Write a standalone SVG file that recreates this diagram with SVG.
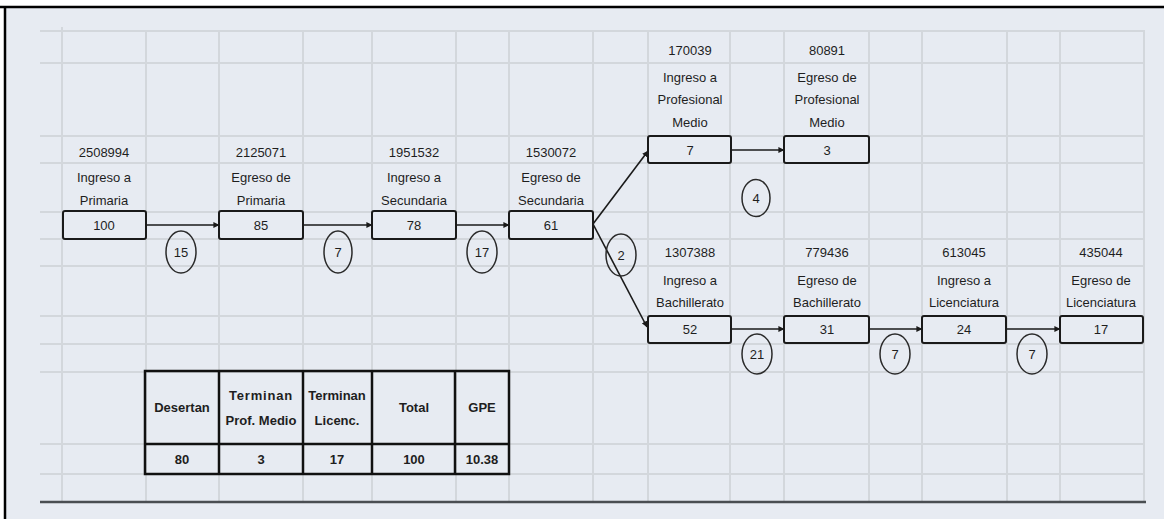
<svg xmlns="http://www.w3.org/2000/svg" width="1164" height="519" viewBox="0 0 1164 519">
<defs>
<style>
.grid line{stroke:#d3d7dc;stroke-width:2}
.box{fill:#e7ebf2;stroke:#1a1a1a;stroke-width:2}
.t{font-family:"Liberation Sans",Arial,sans-serif;font-size:13px;fill:#1e1e1e;text-anchor:middle}
.b{font-weight:bold}
.conn line{stroke:#1a1a1a;stroke-width:1.6;fill:none}
.circ{fill:none;stroke:#2a2a2a;stroke-width:1.5}
.tbl{fill:none;stroke:#111;stroke-width:2.5}
</style>
<marker id="ah" viewBox="0 0 8 8" refX="7.5" refY="4" markerWidth="6" markerHeight="6" markerUnits="userSpaceOnUse" orient="auto">
<path d="M0,0 L8,4 L0,8 z" fill="#1a1a1a"/>
</marker>
</defs>
<rect width="1164" height="519" fill="#ffffff"/>
<rect x="5" y="7" width="1159" height="512" fill="#e7ebf2"/>
<line x1="0" y1="7" x2="1164" y2="7" stroke="#000" stroke-width="2.5"/>
<line x1="5" y1="6" x2="5" y2="519" stroke="#000" stroke-width="2.5"/>

<g class="grid" id="grid">
<line x1="40" y1="31" x2="1145" y2="31"/>
<line x1="40" y1="63" x2="1145" y2="63"/>
<line x1="40" y1="136" x2="1145" y2="136"/>
<line x1="40" y1="163" x2="1145" y2="163"/>
<line x1="40" y1="212" x2="1145" y2="212"/>
<line x1="40" y1="239" x2="1145" y2="239"/>
<line x1="40" y1="266" x2="1145" y2="266"/>
<line x1="40" y1="316" x2="1145" y2="316"/>
<line x1="40" y1="344" x2="1145" y2="344"/>
<line x1="40" y1="372" x2="1145" y2="372"/>
<line x1="40" y1="444" x2="1145" y2="444"/>
<line x1="40" y1="474" x2="1145" y2="474"/>
<line x1="62" y1="27" x2="62" y2="502"/>
<line x1="146" y1="31" x2="146" y2="502"/>
<line x1="219" y1="31" x2="219" y2="502"/>
<line x1="303" y1="31" x2="303" y2="502"/>
<line x1="372" y1="31" x2="372" y2="502"/>
<line x1="456" y1="31" x2="456" y2="502"/>
<line x1="509" y1="31" x2="509" y2="502"/>
<line x1="593" y1="31" x2="593" y2="502"/>
<line x1="648" y1="31" x2="648" y2="502"/>
<line x1="730" y1="31" x2="730" y2="502"/>
<line x1="784" y1="31" x2="784" y2="502"/>
<line x1="869" y1="31" x2="869" y2="502"/>
<line x1="922" y1="31" x2="922" y2="502"/>
<line x1="1007" y1="31" x2="1007" y2="502"/>
<line x1="1060" y1="31" x2="1060" y2="502"/>
<line x1="1144" y1="31" x2="1144" y2="502"/>
</g>
<line x1="40" y1="502" x2="1146" y2="502" stroke="#4a4e52" stroke-width="2.5"/>

<g class="conn" id="connectors">
<line x1="146" y1="225" x2="219" y2="225" marker-end="url(#ah)"/>
<line x1="303" y1="225" x2="372" y2="225" marker-end="url(#ah)"/>
<line x1="456" y1="225" x2="509" y2="225" marker-end="url(#ah)"/>
<line x1="593" y1="224" x2="648" y2="151" marker-end="url(#ah)"/>
<line x1="593" y1="224" x2="647" y2="327" marker-end="url(#ah)"/>
<line x1="731" y1="150" x2="784" y2="150" marker-end="url(#ah)"/>
<line x1="731" y1="329" x2="784" y2="329" marker-end="url(#ah)"/>
<line x1="869" y1="329" x2="922" y2="329" marker-end="url(#ah)"/>
<line x1="1006" y1="329" x2="1060" y2="329" marker-end="url(#ah)"/>
</g>

<g id="rates">
<ellipse class="circ" cx="181" cy="252" rx="15" ry="21"/><text class="t" x="181" y="257">15</text>
<ellipse class="circ" cx="338" cy="252" rx="14" ry="21"/><text class="t" x="338" y="257">7</text>
<ellipse class="circ" cx="482" cy="252" rx="15" ry="21"/><text class="t" x="482" y="257">17</text>
<ellipse class="circ" cx="621" cy="255" rx="15" ry="21"/><text class="t" x="621" y="260">2</text>
<ellipse class="circ" cx="756" cy="198" rx="14" ry="18.5"/><text class="t" x="756" y="203">4</text>
<ellipse class="circ" cx="757" cy="354" rx="15" ry="20"/><text class="t" x="757" y="359">21</text>
<ellipse class="circ" cx="895" cy="354" rx="15" ry="20"/><text class="t" x="895" y="359">7</text>
<ellipse class="circ" cx="1032" cy="354" rx="15" ry="20"/><text class="t" x="1032" y="359">7</text>
</g>

<g id="n-primaria-in">
<text class="t" x="104" y="157">2508994</text>
<text class="t" x="104" y="182">Ingreso a</text>
<text class="t" x="104" y="205">Primaria</text>
<rect class="box" x="63" y="211" width="83" height="28" rx="2"/>
<text class="t" x="104" y="230">100</text>
</g>
<g id="n-primaria-out">
<text class="t" x="261" y="157">2125071</text>
<text class="t" x="261" y="182">Egreso de</text>
<text class="t" x="261" y="205">Primaria</text>
<rect class="box" x="219" y="211" width="84" height="28" rx="2"/>
<text class="t" x="261" y="230">85</text>
</g>
<g id="n-secundaria-in">
<text class="t" x="414" y="157">1951532</text>
<text class="t" x="414" y="182">Ingreso a</text>
<text class="t" x="414" y="205">Secundaria</text>
<rect class="box" x="372" y="211" width="84" height="28" rx="2"/>
<text class="t" x="414" y="230">78</text>
</g>
<g id="n-secundaria-out">
<text class="t" x="551" y="157">1530072</text>
<text class="t" x="551" y="182">Egreso de</text>
<text class="t" x="551" y="205">Secundaria</text>
<rect class="box" x="509" y="211" width="84" height="28" rx="2"/>
<text class="t" x="551" y="230">61</text>
</g>
<g id="n-profmedio-in">
<text class="t" x="690" y="55">170039</text>
<text class="t" x="690" y="82">Ingreso a</text>
<text class="t" x="690" y="104">Profesional</text>
<text class="t" x="690" y="127">Medio</text>
<rect class="box" x="648" y="136" width="83" height="27" rx="2"/>
<text class="t" x="690" y="155">7</text>
</g>
<g id="n-profmedio-out">
<text class="t" x="827" y="55">80891</text>
<text class="t" x="827" y="82">Egreso de</text>
<text class="t" x="827" y="104">Profesional</text>
<text class="t" x="827" y="127">Medio</text>
<rect class="box" x="784" y="136" width="85" height="27" rx="2"/>
<text class="t" x="827" y="155">3</text>
</g>
<g id="n-bach-in">
<text class="t" x="690" y="257">1307388</text>
<text class="t" x="690" y="285">Ingreso a</text>
<text class="t" x="690" y="307">Bachillerato</text>
<rect class="box" x="648" y="316" width="83" height="27" rx="2"/>
<text class="t" x="690" y="334">52</text>
</g>
<g id="n-bach-out">
<text class="t" x="827" y="257">779436</text>
<text class="t" x="827" y="285">Egreso de</text>
<text class="t" x="827" y="307">Bachillerato</text>
<rect class="box" x="784" y="316" width="85" height="27" rx="2"/>
<text class="t" x="827" y="334">31</text>
</g>
<g id="n-lic-in">
<text class="t" x="964" y="257">613045</text>
<text class="t" x="964" y="285">Ingreso a</text>
<text class="t" x="964" y="307">Licenciatura</text>
<rect class="box" x="922" y="316" width="84" height="27" rx="2"/>
<text class="t" x="964" y="334">24</text>
</g>
<g id="n-lic-out">
<text class="t" x="1101" y="257">435044</text>
<text class="t" x="1101" y="285">Egreso de</text>
<text class="t" x="1101" y="307">Licenciatura</text>
<rect class="box" x="1060" y="316" width="83" height="27" rx="2"/>
<text class="t" x="1101" y="334">17</text>
</g>

<g id="summary-table">
<rect class="tbl" x="145" y="371" width="364" height="103"/>
<line class="tbl" x1="145" y1="444" x2="509" y2="444"/>
<line class="tbl" x1="219" y1="371" x2="219" y2="474"/>
<line class="tbl" x1="303" y1="371" x2="303" y2="474"/>
<line class="tbl" x1="372" y1="371" x2="372" y2="474"/>
<line class="tbl" x1="455" y1="371" x2="455" y2="474"/>
<text class="t b" x="182" y="412">Desertan</text>
<text class="t b" x="261" y="400" letter-spacing="0.8">Terminan</text>
<text class="t b" x="261" y="425">Prof. Medio</text>
<text class="t b" x="337" y="400">Terminan</text>
<text class="t b" x="337" y="425">Licenc.</text>
<text class="t b" x="414" y="412">Total</text>
<text class="t b" x="482" y="412">GPE</text>
<text class="t b" x="182" y="464">80</text>
<text class="t b" x="261" y="464">3</text>
<text class="t b" x="337" y="464">17</text>
<text class="t b" x="414" y="464">100</text>
<text class="t b" x="482" y="464">10.38</text>
</g>
</svg>
